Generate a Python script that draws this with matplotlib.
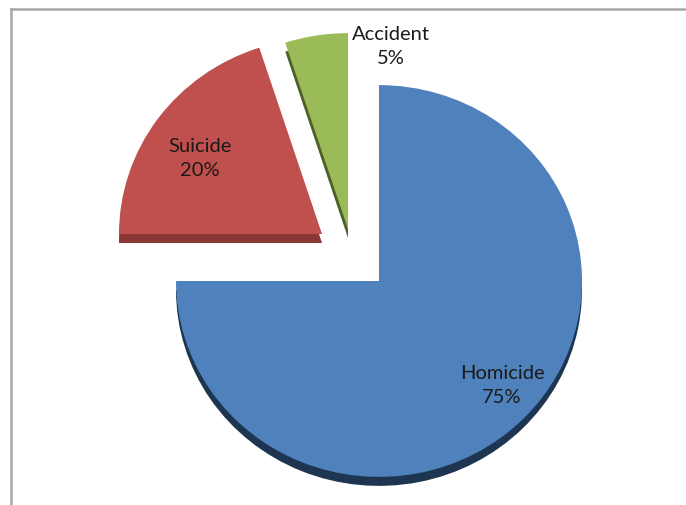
import matplotlib
matplotlib.use("Agg")
import matplotlib.pyplot as plt
from matplotlib.lines import Line2D

# Data
categories = ["Homicide", "Suicide", "Accident"]
shares = [75, 20, 5]

# Styling
face_colors = ["#4F81BD", "#C0504D", "#9BBB59"]
side_colors = ["#1E3552", "#8A3735", "#4E6227"]

W, H = 686, 506
k = 0.965                      # slight vertical squash for the tilted look
fig = plt.figure(figsize=(W / 100, H / 100), dpi=100)
ax = fig.add_axes([0, 0, 1, 1])


def py(y_px):
    return (H - y_px) / k


cx, cy = 379, 282
radius = 203
# offsets (pixels) of each slice's apex from the pie centre
offsets = [(0, 0), (-57, -47), (-31, -52)]
depth = 9

# side faces (drawn first, shifted down)
side_wedges, _ = ax.pie(shares, colors=side_colors, startangle=90, counterclock=False,
                        radius=radius, center=(cx, py(cy)), frame=True,
                        wedgeprops=dict(linewidth=0))
for w, (dx, dy) in zip(side_wedges, offsets):
    w.set_center((cx + dx, py(cy + dy + depth)))
    w.set_zorder(1)

# top faces
top_wedges, _ = ax.pie(shares, colors=face_colors, startangle=90, counterclock=False,
                       radius=radius, center=(cx, py(cy)), frame=True,
                       wedgeprops=dict(linewidth=0))
for w, (dx, dy) in zip(top_wedges, offsets):
    w.set_center((cx + dx, py(cy + dy)))
    w.set_zorder(2)

ax.set_aspect("auto")
ax.set_xlim(0, W)
ax.set_ylim(0, H / k)
ax.axis("off")

# data labels
label_pos = [(502, 386), (200, 159), (391, 47)]
for name, val, (lx, ly) in zip(categories, shares, label_pos):
    ax.text(lx, py(ly), f"{name}\n{val}%", ha="center", va="center",
            fontsize=14.5, family="Lato", color="#1A1A1A", linespacing=1.5,
            zorder=5)

# chart area border (top and left edges)
fig.add_artist(Line2D([10.5 / W, 1], [1 - 9.5 / H, 1 - 9.5 / H],
                      transform=fig.transFigure, color="#A6A6A6", lw=1.8))
fig.add_artist(Line2D([10.5 / W, 10.5 / W], [0, 1 - 9.5 / H],
                      transform=fig.transFigure, color="#A6A6A6", lw=1.8))

fig.savefig("out.png", dpi=100, facecolor="white")
